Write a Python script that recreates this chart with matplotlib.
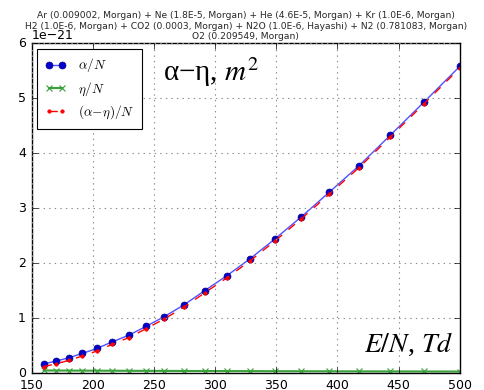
import matplotlib
matplotlib.use("Agg")
import matplotlib.pyplot as plt
import numpy as np

plt.style.use("classic")

# E/N grid, Td
en_td = [160.0, 169.9, 180.4, 191.5, 203.4, 215.9, 229.3, 243.4, 258.5, 274.4,
         291.4, 309.4, 328.5, 348.8, 370.3, 393.2, 417.5, 443.3, 470.7, 500.0]
# reduced Townsend ionization coefficient alpha/N, 1e-21 m^2
alpha_n = [0.17, 0.22, 0.28, 0.36, 0.45, 0.57, 0.69, 0.85, 1.03, 1.24,
           1.50, 1.77, 2.08, 2.44, 2.84, 3.29, 3.77, 4.33, 4.93, 5.58]
# reduced attachment coefficient eta/N, 1e-21 m^2
eta_n = [0.050, 0.049, 0.048, 0.047, 0.046, 0.045, 0.044, 0.043, 0.042, 0.041,
         0.040, 0.039, 0.038, 0.037, 0.036, 0.035, 0.034, 0.033, 0.032, 0.031]

title = ("Ar (0.009002, Morgan) + Ne (1.8E-5, Morgan) + He (4.6E-5, Morgan) + Kr (1.0E-6, Morgan)\n"
         "H2 (1.0E-6, Morgan) + CO2 (0.0003, Morgan) + N2O (1.0E-6, Hayashi) + N2 (0.781083, Morgan)\n"
         "O2 (0.209549, Morgan)")

scale = 1e-21
x = np.array(en_td)
a = np.array(alpha_n) * scale
e = np.array(eta_n) * scale

fig = plt.figure(figsize=(4.85, 3.9), dpi=100, facecolor="white")
ax = fig.add_axes([0.065, 0.043, 0.883, 0.846])

ax.plot(x, a, "b-o", lw=1.0, ms=5, mec="#00008b", mfc="#0000cc",
        color="#5050ff", label=r"$\alpha/N$")
ax.plot(x, e, "x-", color="#3aa03a", lw=1.5, ms=4, mew=0.8, label=r"$\eta/N$")
ax.plot(x, a - e, "r.--", lw=1.0, ms=5, label=r"$(\alpha\!-\!\eta)/N$")

ax.set_xlim(150, 500)
ax.set_ylim(0, 6e-21)
ax.grid(True, color="0.55", linestyle=":", linewidth=0.8)
ax.tick_params(labelsize=9)
ax.yaxis.get_offset_text().set_fontsize(9)
ax.set_title(title, fontsize=6.6, linespacing=1.22, pad=3, color="0.15")

leg = ax.legend(loc="upper left", fontsize=9.5, numpoints=2,
                handlelength=1.6, handletextpad=0.9, borderpad=0.6,
                labelspacing=0.45, borderaxespad=0.4)
leg.get_frame().set_linewidth(0.8)

ax.text(0.307, 0.885, r"α−η, $m^2$", transform=ax.transAxes,
        fontsize=21, family="Liberation Serif", math_fontfamily="stix")
ax.text(0.985, 0.065, r"$E/N$, $Td$", transform=ax.transAxes, ha="right",
        fontsize=20, family="Liberation Serif", math_fontfamily="stix")

fig.savefig("out.png", dpi=100, facecolor="white")
